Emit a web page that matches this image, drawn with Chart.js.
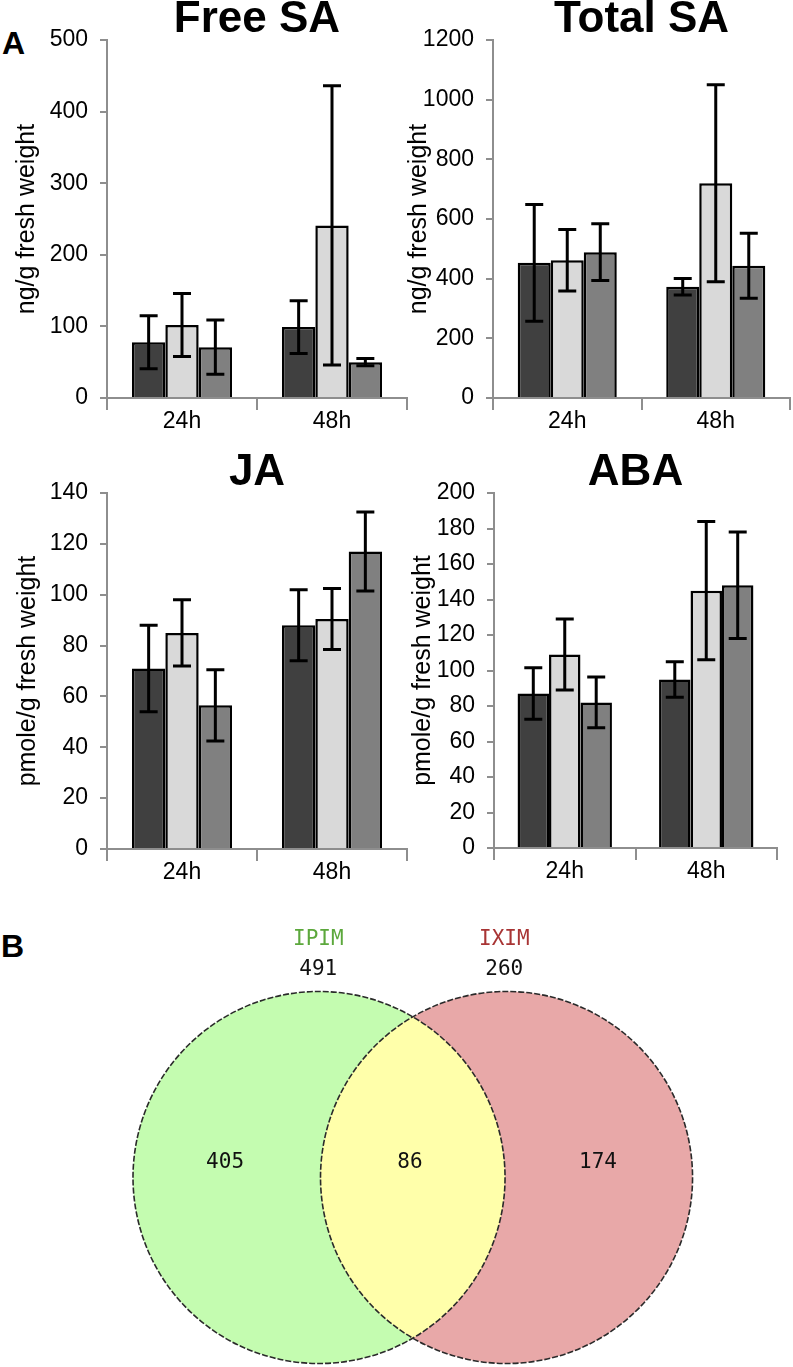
<!DOCTYPE html>
<html>
<head>
<meta charset="utf-8">
<script src="https://cdn.jsdelivr.net/npm/chart.js@4.4.1/dist/chart.umd.min.js"></script>
<style>
  body { margin: 0; background: #fff; width: 793px; height: 1367px; position: relative; overflow: hidden;
         font-family: "Liberation Sans", Arial, sans-serif; }
  canvas { position: absolute; }
  .tag { position: absolute; font-weight: bold; font-size: 32px; line-height: 32px; color: #000; }
</style>
</head>
<body>
<div class="tag" style="left:2px;top:27px">A</div>
<div class="tag" style="left:1px;top:930px">B</div>
<canvas id="freeSa" width="412" height="440" style="left:0;top:0"></canvas>
<canvas id="totalSa" width="393" height="440" style="left:400px;top:0"></canvas>
<canvas id="ja" width="412" height="440" style="left:0;top:453px"></canvas>
<canvas id="aba" width="393" height="440" style="left:400px;top:453px"></canvas>
<canvas id="venn" width="793" height="467" style="left:0;top:900px"></canvas>
<script>
// categories
const timepoints = ['24h', '48h'];

// Free SA (ng/g fresh weight), three treatments
const freeSa1 = [78, 99],    freeSaErr1 = [37, 37];
const freeSa2 = [102, 241],  freeSaErr2 = [44, 195];
const freeSa3 = [71, 50],    freeSaErr3 = [38, 5];

// Total SA (ng/g fresh weight)
const totalSa1 = [453, 373], totalSaErr1 = [196, 28];
const totalSa2 = [462, 720], totalSaErr2 = [103, 330];
const totalSa3 = [489, 443], totalSaErr3 = [95, 109];

// JA (pmole/g fresh weight)
const ja1 = [71, 88],     jaErr1 = [17, 14];
const ja2 = [85, 90.5],   jaErr2 = [13, 12];
const ja3 = [56.5, 117],  jaErr3 = [14, 15.5];

// ABA (pmole/g fresh weight)
const aba1 = [87, 95],    abaErr1 = [14.5, 10];
const aba2 = [109, 145],  abaErr2 = [20, 39];
const aba3 = [82, 148],   abaErr3 = [14.3, 30];

// Venn counts
const vennSets = ['IPIM', 'IXIM'];
const vennTotals = [491, 260];
const vennRegions = [405, 86, 174];

const barColors = ['#404040', '#d9d9d9', '#808080'];
const axisGray = '#8e8e8e';

Chart.defaults.font.family = '"Liberation Sans", Arial, sans-serif';
Chart.defaults.color = '#000';

const errorBars = {
    id: 'errorBars',
    afterDatasetsDraw(chart) {
        const ctx = chart.ctx;
        const y = chart.scales.y;
        chart.data.datasets.forEach((ds, i) => {
            chart.getDatasetMeta(i).data.forEach((bar, j) => {
                const top = y.getPixelForValue(ds.data[j] + ds.errors[j]);
                const bot = y.getPixelForValue(ds.data[j] - ds.errors[j]);
                ctx.save();
                ctx.strokeStyle = '#000';
                ctx.lineWidth = 3;
                ctx.beginPath();
                ctx.moveTo(bar.x, top); ctx.lineTo(bar.x, bot);
                ctx.moveTo(bar.x - 9, top); ctx.lineTo(bar.x + 9, top);
                ctx.moveTo(bar.x - 9, bot); ctx.lineTo(bar.x + 9, bot);
                ctx.stroke();
                ctx.restore();
            });
        });
    }
};

function makePanel(id, title, yTitle, yMax, yStep, values, errors, box) {
    const datasets = values.map((v, i) => ({
        data: v,
        errors: errors[i],
        backgroundColor: barColors[i],
        borderColor: '#000',
        borderWidth: 2.5,
        borderSkipped: 'start',
        categoryPercentage: 0.667,
        barPercentage: 1.0
    }));
    new Chart(document.getElementById(id), {
        type: 'bar',
        data: { labels: timepoints, datasets: datasets },
        options: {
            responsive: false,
            animation: false,
            layout: { padding: { left: 0, top: 0, right: box.padRight, bottom: 0 } },
            plugins: {
                legend: { display: false },
                tooltip: { enabled: false },
                title: {
                    display: true,
                    text: title,
                    fullSize: false,
                    font: { size: 44, weight: 'bold', lineHeight: 0.91 },
                    padding: 0,
                    color: '#000'
                }
            },
            scales: {
                x: {
                    grid: { drawOnChartArea: false, drawTicks: true, tickLength: 12, color: axisGray, lineWidth: 2 },
                    border: { color: axisGray, width: 2 },
                    ticks: { font: { size: 23, lineHeight: 1 }, padding: 0, color: '#000' },
                    afterFit: s => { s.height = box.xHeight; }
                },
                y: {
                    min: 0,
                    max: yMax,
                    grid: { drawOnChartArea: false, drawTicks: true, tickLength: 7, color: axisGray, lineWidth: 2 },
                    border: { color: axisGray, width: 2 },
                    ticks: { stepSize: yStep, padding: 12, font: { size: 23 }, color: '#000', callback: v => String(v) },
                    title: { display: true, text: yTitle, font: { size: 25 }, padding: { top: box.titlePad, bottom: 0 }, color: '#000' },
                    afterFit: s => { s.width = box.yWidth; }
                }
            }
        },
        plugins: [errorBars]
    });
}

makePanel('freeSa', 'Free SA', 'ng/g fresh weight', 500, 100,
    [freeSa1, freeSa2, freeSa3], [freeSaErr1, freeSaErr2, freeSaErr3],
    { yWidth: 107, xHeight: 42, padRight: 5, titlePad: 12 });
makePanel('totalSa', 'Total SA', 'ng/g fresh weight', 1200, 200,
    [totalSa1, totalSa2, totalSa3], [totalSaErr1, totalSaErr2, totalSaErr3],
    { yWidth: 93, xHeight: 42, padRight: 3, titlePad: 4 });
makePanel('ja', 'JA', 'pmole/g fresh weight', 140, 20,
    [ja1, ja2, ja3], [jaErr1, jaErr2, jaErr3],
    { yWidth: 107, xHeight: 44, padRight: 5, titlePad: 13 });
makePanel('aba', 'ABA', 'pmole/g fresh weight', 200, 20,
    [aba1, aba2, aba3], [abaErr1, abaErr2, abaErr3],
    { yWidth: 94, xHeight: 45, padRight: 16, titlePad: 8 });

// Venn layout (in circle-radius units)
const vennCircles = [{ x: -0.504, y: 0, r: 1 }, { x: 0.504, y: 0, r: 1 }];
const vennRegionPos = [[-1.009, 0.083], [-0.015, 0.083], [0.996, 0.083]];
const vennNamePos = [[-0.508, 1.277], [0.492, 1.277]];
const vennTotalPos = [[-0.508, 1.116], [0.492, 1.116]];
const vennFills = ['#c4fcb0', '#e8a8a8'];
const vennOverlap = '#ffffaa';
const vennNameColors = ['#5ca83c', '#a83434'];

const vennDraw = {
    id: 'vennDraw',
    beforeDatasetsDraw(chart) {
        const ctx = chart.ctx, sx = chart.scales.x, sy = chart.scales.y;
        const circ = vennCircles.map(c => ({
            cx: sx.getPixelForValue(c.x),
            cy: sy.getPixelForValue(c.y),
            r: sx.getPixelForValue(c.x + c.r) - sx.getPixelForValue(c.x)
        }));
        ctx.save();
        circ.forEach((c, i) => {
            ctx.beginPath(); ctx.arc(c.cx, c.cy, c.r, 0, Math.PI * 2);
            ctx.fillStyle = vennFills[i]; ctx.fill();
        });
        ctx.save();
        ctx.beginPath(); ctx.arc(circ[0].cx, circ[0].cy, circ[0].r, 0, Math.PI * 2); ctx.clip();
        ctx.beginPath(); ctx.arc(circ[1].cx, circ[1].cy, circ[1].r, 0, Math.PI * 2);
        ctx.fillStyle = vennOverlap; ctx.fill();
        ctx.restore();
        ctx.setLineDash([6, 2]);
        ctx.lineWidth = 1.6;
        ctx.strokeStyle = '#2a2a2a';
        circ.forEach(c => {
            ctx.beginPath(); ctx.arc(c.cx, c.cy, c.r, 0, Math.PI * 2); ctx.stroke();
        });
        ctx.restore();
    },
    afterDatasetsDraw(chart) {
        const ctx = chart.ctx;
        ctx.save();
        ctx.font = '21px "DejaVu Sans Mono", monospace';
        ctx.textAlign = 'center';
        ctx.textBaseline = 'middle';
        chart.data.datasets.forEach((ds, i) => {
            chart.getDatasetMeta(i).data.forEach((pt, j) => {
                ctx.fillStyle = ds.textColors ? ds.textColors[j] : '#111';
                ctx.fillText(String(ds.texts[j]), pt.x, pt.y);
            });
        });
        ctx.restore();
    }
};

new Chart(document.getElementById('venn'), {
    type: 'scatter',
    data: {
        datasets: [
            { data: vennRegionPos.map(p => ({ x: p[0], y: p[1] })), texts: vennRegions, pointRadius: 0 },
            { data: vennNamePos.map(p => ({ x: p[0], y: p[1] })), texts: vennSets, textColors: vennNameColors, pointRadius: 0 },
            { data: vennTotalPos.map(p => ({ x: p[0], y: p[1] })), texts: vennTotals, pointRadius: 0 }
        ]
    },
    options: {
        responsive: false,
        animation: false,
        layout: { padding: 0 },
        plugins: { legend: { display: false }, tooltip: { enabled: false } },
        scales: {
            x: { type: 'linear', min: -2.219, max: 2.044, display: false },
            y: { type: 'linear', min: -1.019, max: 1.492, display: false }
        }
    },
    plugins: [vennDraw]
});
</script>
</body>
</html>
